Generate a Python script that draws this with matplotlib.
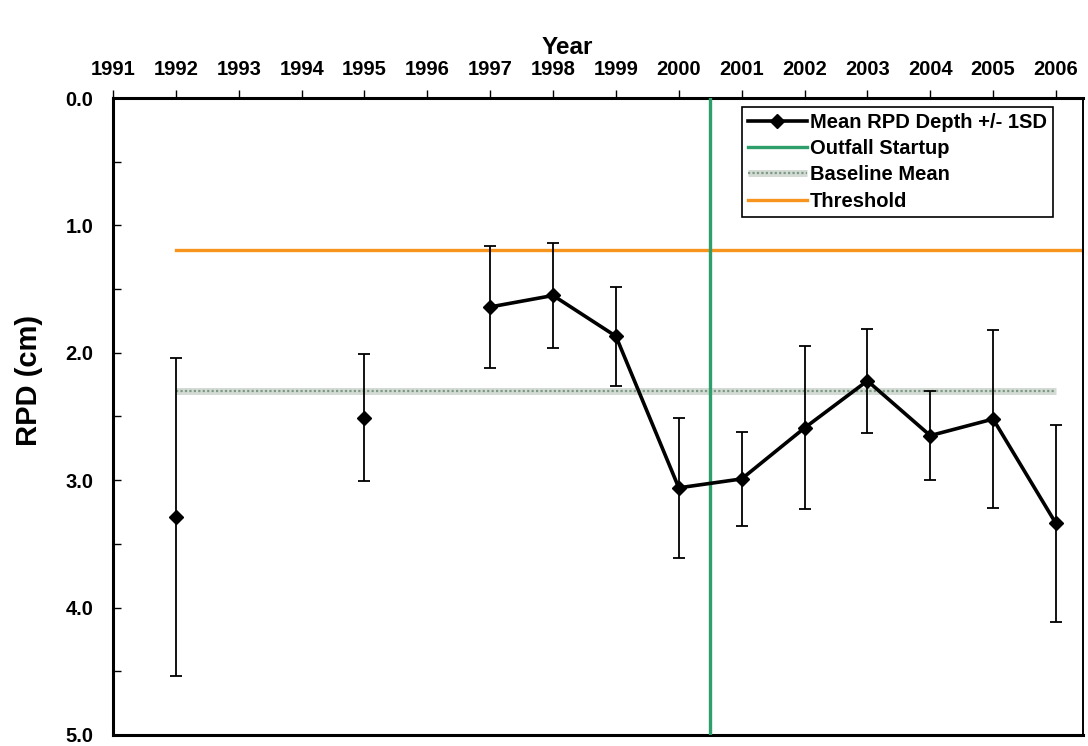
import numpy as np
import matplotlib
matplotlib.use("Agg")
import matplotlib.pyplot as plt
from matplotlib.legend_handler import HandlerTuple

plt.rcParams['font.family'] = ['Liberation Sans', 'DejaVu Sans']
plt.rcParams['font.weight'] = 'bold'

# Annual mean RPD depth (cm) and standard deviation; NaN = no survey
years = [1992, 1993, 1994, 1995, 1996, 1997, 1998, 1999,
         2000, 2001, 2002, 2003, 2004, 2005, 2006]
mean_rpd = [3.29, np.nan, np.nan, 2.51, np.nan, 1.64, 1.55, 1.87,
            3.06, 2.99, 2.59, 2.22, 2.65, 2.52, 3.34]
sd_rpd = [1.25, np.nan, np.nan, 0.50, np.nan, 0.48, 0.41, 0.39,
          0.55, 0.37, 0.64, 0.41, 0.35, 0.70, 0.77]

tick_years = list(range(1991, 2007))
outfall_startup = 2000.5
baseline_mean = 2.30
threshold = 1.19
baseline_span = [1992, 2006]
x_min, x_max = 1991, 2006.43

fig = plt.figure(figsize=(10.88, 7.46), dpi=100)
ax = fig.add_axes([0.1039, 0.0148, 0.8915, 0.8538])

ax.set_xlim(x_min, x_max)
ax.set_ylim(5.0, 0.0)

# Threshold and baseline reference lines
h_thr, = ax.plot([baseline_span[0], x_max], [threshold, threshold],
                 color='#f7941d', lw=2.4, zorder=2)
h_base_bg, = ax.plot(baseline_span, [baseline_mean, baseline_mean],
                     color='#d3dbd4', lw=5, solid_capstyle='butt', zorder=2)
h_base_fg, = ax.plot(baseline_span, [baseline_mean, baseline_mean],
                     color='#7d9a84', lw=1.6, linestyle=(0, (1, 1)), zorder=2)

# Outfall startup marker
h_out = ax.axvline(outfall_startup, color='#2e9e6a', lw=2.4, zorder=3)

# Mean RPD with +/- 1 SD error bars
ax.errorbar(years, mean_rpd, yerr=sd_rpd, fmt='none', ecolor='black',
            elinewidth=1.3, capsize=4.3, capthick=1.3, zorder=4)
h_mean, = ax.plot(years, mean_rpd, color='black', lw=2.6, marker='D',
                  markersize=6.8, zorder=5)

# Axes styling
ax.xaxis.tick_top()
ax.xaxis.set_label_position('top')
ax.set_xticks(tick_years)
ax.set_xticklabels([str(y) for y in tick_years])
ax.tick_params(axis='x', which='major', direction='out', length=6, width=1,
               pad=8, labelsize=14.5)
ax.tick_params(axis='x', which='minor', top=False, bottom=False)

ax.set_yticks(np.arange(0, 5.01, 1.0))
ax.set_yticks(np.arange(0.5, 5.0, 1.0), minor=True)
ax.set_yticklabels([f"{v:.1f}" for v in np.arange(0, 5.01, 1.0)])
ax.tick_params(axis='y', which='major', direction='in', length=6, width=1,
               pad=14, labelsize=14.5)
ax.tick_params(axis='y', which='minor', direction='in', length=6, width=1)

for side in ['left', 'top', 'bottom']:
    ax.spines[side].set_linewidth(2.2)
ax.spines['right'].set_linewidth(1.4)

ax.set_xlabel('Year', fontsize=17.5, fontweight='bold')
ax.xaxis.label.set_verticalalignment('center')
ax.xaxis.set_label_coords(0.468, 1.080)
ax.set_ylabel('RPD (cm)', fontsize=21, fontweight='bold')
ax.yaxis.set_label_coords(-0.072, 0.557)

leg = ax.legend([h_mean, h_out, (h_base_bg, h_base_fg), h_thr],
                ['Mean RPD Depth +/- 1SD', 'Outfall Startup',
                 'Baseline Mean', 'Threshold'],
                handler_map={tuple: HandlerTuple(ndivide=1)},
                loc='upper left', bbox_to_anchor=(0.6485, 0.986),
                borderaxespad=0, fontsize=14.5, frameon=True, fancybox=False,
                edgecolor='black', framealpha=1, handlelength=2.9,
                handletextpad=0.15, labelspacing=0.36, borderpad=0.3)
leg.get_frame().set_linewidth(1.2)
for t in leg.get_texts():
    t.set_fontweight('bold')

fig.savefig('out.png', dpi=100)
